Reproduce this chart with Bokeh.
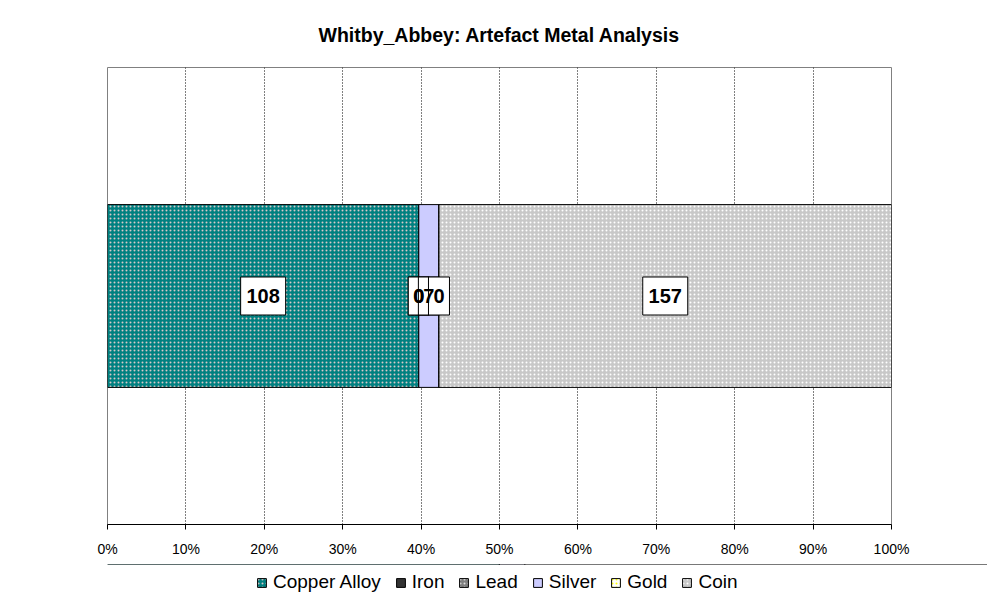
from bokeh.plotting import figure
from bokeh.models import (ColumnDataSource, Legend, LegendItem, NumeralTickFormatter,
                          FixedTicker, Range1d)
from bokeh.layouts import column
from bokeh.core.properties import value
from bokeh.embed import file_html
from bokeh.resources import INLINE

# ---- data ----
categories = ["Whitby_Abbey"]
metals = ["Copper Alloy", "Iron", "Lead", "Silver", "Gold", "Coin"]
counts = [108, 0, 0, 7, 0, 157]
fills = ["#008080", "#333333", "#808080", "#ccccff", "#ffffff", "#c8c8c8"]
hatch_patterns = ["dot", "blank", "dot", "blank", "dot", "dot"]
hatch_colors = ["#d8c8c8", "#333333", "#e0e0e0", "#ccccff", "#ffff00", "#ffffff"]
ticks = [0, 0.1, 0.2, 0.3, 0.4, 0.5, 0.6, 0.7, 0.8, 0.9, 1.0]

total = sum(counts)
lefts, rights, mids = [], [], []
acc = 0.0
for c in counts:
    lefts.append(acc / total)
    acc += c
    rights.append(acc / total)
    mids.append((lefts[-1] + rights[-1]) / 2)

p = figure(frame_width=784, frame_height=457, output_backend="svg", toolbar_location=None,
           x_range=Range1d(0, 1), y_range=Range1d(0, 1),
           min_border_left=107, min_border_right=96, min_border_top=66, min_border_bottom=40)
p.title.text = "Whitby_Abbey: Artefact Metal Analysis"
p.title.align = "center"
p.title.text_font = "Liberation Sans"
p.title.text_font_size = "19.5px"
p.title.text_font_style = "bold"
p.title.text_color = "black"
p.title.standoff = 43

p.outline_line_color = "#808080"
p.outline_line_width = 1
p.background_fill_color = "white"
p.border_fill_color = "white"

p.yaxis.visible = False
p.ygrid.visible = False
p.xgrid.ticker = FixedTicker(ticks=ticks)
p.xgrid.grid_line_color = "black"
p.xgrid.grid_line_dash = "1 2"
p.xaxis.ticker = FixedTicker(ticks=ticks)
p.xaxis.formatter = NumeralTickFormatter(format="0%")
p.xaxis.axis_line_color = "black"
p.xaxis.major_tick_line_color = "black"
p.xaxis.major_tick_out = 5
p.xaxis.major_tick_in = 0
p.xaxis.minor_tick_line_color = None
p.xaxis.major_label_text_font = "Liberation Sans"
p.xaxis.major_label_text_font_size = "14px"
p.xaxis.major_label_text_color = "black"
p.xaxis.major_label_standoff = 11

for i, m in enumerate(metals):
    src = ColumnDataSource(dict(y=[0.5], left=[lefts[i]], right=[rights[i]]))
    p.hbar(y="y", left="left", right="right", height=0.4, source=src,
           fill_color=fills[i], line_color="black", line_width=1,
           hatch_pattern=hatch_patterns[i], hatch_color=hatch_colors[i],
           hatch_scale=4, hatch_weight=1.4)

texts = [str(c) for c in counts]
lab_src = ColumnDataSource(dict(x=mids, y=[0.5] * len(mids), t=texts,
                                w=[9 + 12 * len(t) for t in texts]))
p.rect(x="x", y="y", width="w", height=38, width_units="screen", height_units="screen",
       source=lab_src, fill_color="white", line_color="black", line_width=1)
p.text(x="x", y="y", text="t", source=lab_src, text_align="center",
       text_baseline="middle", text_font=value("Liberation Sans"), text_font_size="20px",
       text_font_style="bold", text_color="black")

# ---- legend strip (separate figure below the chart) ----
lg = figure(frame_width=987, frame_height=43, output_backend="svg", toolbar_location=None,
            x_range=Range1d(0, 1), y_range=Range1d(0, 1),
            min_border_left=0, min_border_right=0, min_border_top=0, min_border_bottom=0)
lg.axis.visible = False
lg.grid.visible = False
lg.outline_line_color = None
lg.background_fill_color = "white"
lg.border_fill_color = "white"

items = []
for i, m in enumerate(metals):
    # same data, drawn outside the legend strip's visible range; only its swatch shows
    off = ColumnDataSource(dict(y=[5.0], left=[lefts[i]], right=[rights[i]]))
    r = lg.hbar(y="y", left="left", right="right", height=0.4, source=off,
                fill_color=fills[i], line_color="black", line_width=1,
                hatch_pattern=hatch_patterns[i], hatch_color=hatch_colors[i],
                hatch_scale=4, hatch_weight=1.4)
    items.append(LegendItem(label=m, renderers=[r]))

legend = Legend(items=items, orientation="horizontal", location=(256, 14),
                label_text_font="Liberation Sans", label_text_font_size="19px",
                label_text_color="black", label_height=20,
                glyph_width=11, glyph_height=11, spacing=14, label_standoff=6,
                border_line_color=None, background_fill_alpha=0, padding=2, margin=0)
lg.add_layout(legend)

layout = column(p, lg, spacing=0)
open("out.html", "w").write(file_html(layout, INLINE))
